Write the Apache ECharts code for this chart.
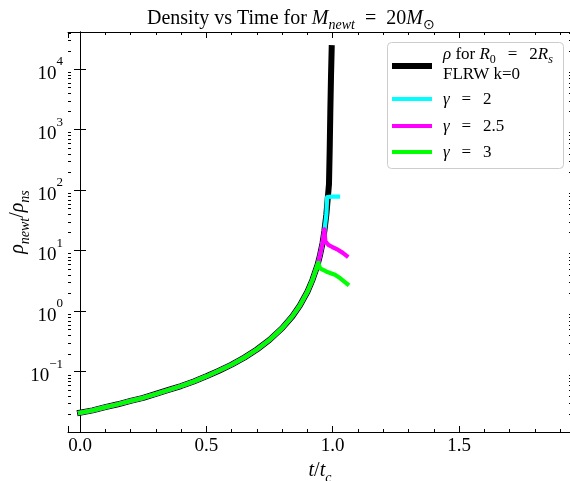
<!DOCTYPE html>
<html><head><meta charset="utf-8">
<script src="https://cdn.jsdelivr.net/npm/echarts@6/dist/echarts.min.js"></script>
<style>html,body{margin:0;padding:0;background:#fff}#c{width:570px;height:481px}</style>
</head><body><div id="c"></div>
<script>
// shared early part (all four curves overlap here)
const tCommon   = [0, 0.05, 0.1, 0.15, 0.2, 0.25, 0.3, 0.35, 0.4, 0.45, 0.5, 0.55, 0.6, 0.65, 0.7, 0.75, 0.8, 0.84, 0.87, 0.9, 0.92, 0.94];
const rhoCommon = [0.021, 0.023, 0.026, 0.029, 0.033, 0.037, 0.043, 0.050, 0.058, 0.069, 0.084, 0.104, 0.131, 0.171, 0.233, 0.336, 0.525, 0.82, 1.24, 2.1, 3.3, 5.8];
// FLRW k=0 tail
const tBlackTail   = [0.95, 0.96, 0.967, 0.975, 0.98, 0.9853, 0.9881, 0.9905, 0.9933, 0.996];
const rhoBlackTail = [8.5, 13.5, 21, 40, 70, 125, 464, 1870, 7550, 22200];
// gamma = 2
const tG2Tail   = [0.95, 0.96, 0.967, 0.975, 0.978, 0.985, 1.0, 1.021];
const rhoG2Tail = [8.5, 13.5, 21, 40, 77, 78, 78, 78];
// gamma = 2.5
const tG25Tail   = [0.95, 0.96, 0.967, 0.971, 0.983, 1.0, 1.022, 1.04, 1.055];
const rhoG25Tail = [8.5, 13.5, 22.5, 14.2, 12.5, 11.4, 10.3, 9.2, 8.2];
// gamma = 3
const tG3Tail   = [0.943, 0.95, 0.976, 1.009, 1.03, 1.058];
const rhoG3Tail = [6.3, 5.1, 4.5, 4.0, 3.5, 2.8];

const seriesNames  = ['b', 'g2', 'g25', 'g3'];
const seriesColors = ['#000000', '#00ffff', '#ff00ff', '#00ff00'];
const seriesWidths = [6, 4.2, 4.2, 4.2];

const xMin = -0.0475, xMax = 1.947;
const yMin = 0.0101, yMax = 41000;
const minorMultipliers = [2, 3, 4, 5, 6, 7, 8, 9];
const minorDecades = [0.01, 0.1, 1, 10, 100, 1000, 10000];

const FONT = 'Liberation Serif';

function pairs(ts, vs) { return ts.map((t, i) => [t, vs[i]]); }
const seriesData = [
  pairs(tCommon.concat(tBlackTail), rhoCommon.concat(rhoBlackTail)),
  pairs(tCommon.concat(tG2Tail), rhoCommon.concat(rhoG2Tail)),
  pairs(tCommon.concat(tG25Tail), rhoCommon.concat(rhoG25Tail)),
  pairs(tCommon.concat(tG3Tail), rhoCommon.concat(rhoG3Tail))
];

const yMinor = [];
minorDecades.forEach(d => minorMultipliers.forEach(m => { const v = d * m; if (v > yMin && v < yMax) yMinor.push([0, v]); }));

const subRich = (fs, lh) => ({
  n: {fontFamily: FONT, fontWeight: 'normal', fontSize: fs, color: '#000', fill: '#000', verticalAlign: 'top', lineHeight: lh},
  i: {fontFamily: FONT, fontWeight: 'normal', fontStyle: 'italic', fontSize: fs, color: '#000', fill: '#000', verticalAlign: 'top', lineHeight: lh},
  sub: {fontFamily: FONT, fontWeight: 'normal', fontSize: Math.round(fs * 0.7), color: '#000', fill: '#000', verticalAlign: 'bottom'},
  isub: {fontFamily: FONT, fontWeight: 'normal', fontStyle: 'italic', fontSize: Math.round(fs * 0.7), color: '#000', fill: '#000', verticalAlign: 'bottom'}
});

const EQ = '\u2002\u2009=\u2002\u2009';
const legendLabels = [
  '{i|ρ}{n| for }{i|R}{sub|0}{n|' + EQ + '2}{i|R}{isub|s}\n{n|FLRW k=0}',
  '{i|γ}{n|' + EQ + '2}',
  '{i|γ}{n|' + EQ + '2.5}',
  '{i|γ}{n|' + EQ + '3}'
];
const legendRowY = [66, 99, 126, 152];

const legendGraphic = [{
  type: 'rect', left: 387, top: 42, z: 100,
  shape: {width: 176, height: 126, r: 4},
  style: {fill: '#fff', stroke: '#cccccc', lineWidth: 1}
}];
seriesNames.forEach((n, k) => {
  legendGraphic.push({
    type: 'line', z: 101,
    shape: {x1: 392, y1: legendRowY[k], x2: 432, y2: legendRowY[k]},
    style: {stroke: seriesColors[k], lineWidth: seriesWidths[k]}
  });
  legendGraphic.push({
    type: 'text', z: 101, x: 443, y: legendRowY[k] + (k === 0 ? 0 : 2),
    style: {text: legendLabels[k], rich: subRich(17, 20), verticalAlign: 'middle', align: 'left',
            fontFamily: FONT, fontSize: 17, fill: '#000'}
  });
});

const chart = echarts.init(document.getElementById('c'));
chart.setOption({
  animation: false,
  title: {
    text: '{n|Density vs Time for }{i|M}{isub|newt}{n|\u2002=\u200220}{i|M}{sub|⊙}',
    left: 147, top: 9, padding: 0,
    textStyle: {fontFamily: FONT, fontWeight: 'normal', fontSize: 20, rich: subRich(20, 23)}
  },
  grid: {left: 68, top: 32, right: -2, bottom: 49, containLabel: false, outerBoundsMode: 'none'},
  graphic: legendGraphic,
  xAxis: [{
    type: 'value', min: xMin, max: xMax, splitNumber: 4,
    name: '{i|t}{n|/}{i|t}{isub|c}', nameLocation: 'middle', nameGap: 25,
    nameTextStyle: {fontFamily: FONT, fontSize: 20, rich: subRich(20, 24)},
    axisLine: {lineStyle: {color: '#000', width: 1}},
    axisTick: {inside: true, length: 6, lineStyle: {color: '#000'}},
    minorTick: {show: true, splitNumber: 5, length: 3, lineStyle: {color: '#000'}},
    splitLine: {show: false},
    axisLabel: {showMinLabel: false, showMaxLabel: false, margin: 5, fontFamily: FONT, fontSize: 19, color: '#000', formatter: v => v.toFixed(1)}
  }, {
    type: 'value', min: xMin, max: xMax, splitNumber: 4, position: 'top',
    axisLine: {lineStyle: {color: '#000', width: 1}},
    axisTick: {inside: true, length: 6, lineStyle: {color: '#000'}},
    minorTick: {show: true, splitNumber: 5, length: 3, lineStyle: {color: '#000'}},
    splitLine: {show: false}, axisLabel: {show: false}
  }],
  yAxis: [{
    type: 'log', min: yMin, max: yMax, logBase: 10,
    name: '{i|ρ}{isub|newt}{n|/}{i|ρ}{isub|ns}', nameLocation: 'middle', nameGap: 36, nameRotate: 90,
    nameMoveOverlap: false,
    nameTextStyle: {fontFamily: FONT, fontSize: 20, padding: [0, 0, 0, 20], rich: subRich(20, 24)},
    axisLine: {lineStyle: {color: '#000', width: 1}},
    axisTick: {inside: true, length: 6, lineStyle: {color: '#000'}},
    splitLine: {show: false},
    axisLabel: {
      showMinLabel: false, showMaxLabel: false, margin: 5,
      formatter: v => { const e = Math.round(Math.log10(v)); return '{b|10}{s|' + (e < 0 ? '\u2212' + (-e) : e) + '}'; },
      rich: {
        b: {fontFamily: FONT, fontSize: 19, color: '#000', verticalAlign: 'bottom', lineHeight: 28},
        s: {fontFamily: FONT, fontSize: 13, color: '#000', verticalAlign: 'top'}
      }
    }
  }, {
    type: 'log', min: yMin, max: yMax, logBase: 10, position: 'right',
    axisLine: {lineStyle: {color: '#000', width: 1}},
    axisTick: {inside: true, length: 6, lineStyle: {color: '#000'}},
    splitLine: {show: false}, axisLabel: {show: false}
  }],
  series: seriesNames.map((n, k) => ({
    name: n, type: 'line', data: seriesData[k], symbol: 'none', smooth: false,
    lineStyle: {color: seriesColors[k], width: seriesWidths[k], cap: 'square', join: 'round'},
    itemStyle: {color: seriesColors[k]}
  })).concat([{
    type: 'custom', silent: true, data: yMinor, xAxisIndex: 0, yAxisIndex: 0, z: 1,
    renderItem: (params, api) => {
      const p = api.coord([api.value(0), api.value(1)]);
      const cs = params.coordSys;
      const y = Math.round(p[1]) + 0.5;
      return {type: 'group', children: [
        {type: 'line', shape: {x1: cs.x, y1: y, x2: cs.x + 3, y2: y}, style: {stroke: '#000', lineWidth: 1}},
        {type: 'line', shape: {x1: cs.x + cs.width - 3, y1: y, x2: cs.x + cs.width, y2: y}, style: {stroke: '#000', lineWidth: 1}}
      ]};
    }
  }])
});
</script></body></html>
